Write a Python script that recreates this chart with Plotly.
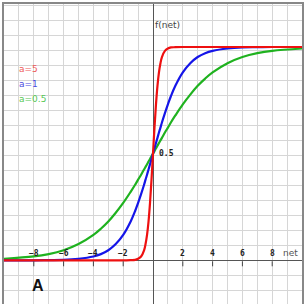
import plotly.graph_objects as go

# Data (logistic curves f(net) for three gains a)
net = [-10, -8, -7, -6, -5, -4, -3.5, -3, -2.5, -2, -1.5, -1.2, -1, -0.8, -0.6, -0.5,
       -0.4, -0.3, -0.2, -0.1, 0, 0.1, 0.2, 0.3, 0.4, 0.5, 0.6, 0.8, 1, 1.2, 1.5, 2,
       2.5, 3, 3.5, 4, 5, 6, 7, 8, 10]
f_a5 = [0, 0, 0, 0, 0, 0, 0, 0, 0, 0, 0.001, 0.002, 0.007, 0.018, 0.047, 0.076,
        0.119, 0.182, 0.269, 0.378, 0.5, 0.622, 0.731, 0.818, 0.881, 0.924, 0.953,
        0.982, 0.993, 0.998, 0.999, 1, 1, 1, 1, 1, 1, 1, 1, 1, 1]
f_a1 = [0, 0, 0.001, 0.002, 0.007, 0.018, 0.029, 0.047, 0.076, 0.119, 0.182, 0.231,
        0.269, 0.310, 0.354, 0.378, 0.401, 0.426, 0.450, 0.475, 0.5, 0.525, 0.550,
        0.574, 0.599, 0.622, 0.646, 0.690, 0.731, 0.769, 0.818, 0.881, 0.924, 0.953,
        0.971, 0.982, 0.993, 0.998, 0.999, 1, 1]
f_a05 = [0.007, 0.018, 0.029, 0.047, 0.076, 0.119, 0.148, 0.182, 0.223, 0.269, 0.321,
         0.354, 0.378, 0.401, 0.426, 0.438, 0.450, 0.463, 0.475, 0.488, 0.5, 0.512,
         0.525, 0.537, 0.550, 0.562, 0.574, 0.599, 0.622, 0.646, 0.679, 0.731, 0.777,
         0.818, 0.852, 0.881, 0.924, 0.953, 0.971, 0.982, 0.993]

series_names = ["a=0.5", "a=1", "a=5"]
series_values = [f_a05, f_a1, f_a5]
series_colors = ["#1fb21f", "#1515e8", "#ee1010"]
legend_colors = ["#55c855", "#4a4ae0", "#ee5a5a"]
legend_y = [0.756, 0.827, 0.897]

x_tick_vals = [-8, -6, -4, -2, 2, 4, 6, 8]
x_tick_text = ["\u22128", "\u22126", "\u22124", "\u22122", "2", "4", "6", "8"]

fig = go.Figure()
for name, vals, col in zip(series_names, series_values, series_colors):
    fig.add_trace(go.Scatter(x=net, y=vals, mode="lines", name=name,
                             line=dict(color=col, width=2.2, shape="spline"),
                             hoverinfo="skip"))

annotations = []
for v, t in zip(x_tick_vals, x_tick_text):
    annotations.append(dict(x=v, y=0, xref="x", yref="y", text="<b>" + t + "</b>",
                            showarrow=False, yanchor="bottom", xanchor="center", yshift=0,
                            font=dict(family="DejaVu Sans Mono", size=8, color="#222")))
annotations.append(dict(x=9.23, y=0, xref="x", yref="y", text="net", showarrow=False,
                        yanchor="bottom", xanchor="center", yshift=0,
                        font=dict(family="DejaVu Sans", size=9, color="#555")))
annotations.append(dict(x=0.02, y=1.103, xref="x", yref="y", text="f(net)", showarrow=False,
                        yanchor="middle", xanchor="left",
                        font=dict(family="DejaVu Sans", size=9, color="#444")))
annotations.append(dict(x=0.3, y=0.5, xref="x", yref="y", text="<b>0.5</b>", showarrow=False,
                        yanchor="middle", xanchor="left",
                        font=dict(family="DejaVu Sans Mono", size=8, color="#222")))
for name, col, yv in zip(series_names, legend_colors, legend_y):
    annotations.append(dict(x=-9.1, y=yv, xref="x", yref="y", text=name, showarrow=False,
                            yanchor="middle", xanchor="left",
                            font=dict(family="DejaVu Sans", size=9, color=col)))
annotations.append(dict(x=-7.69, y=-0.117, xref="x", yref="y", text="<b>A</b>",
                        showarrow=False, yanchor="middle", xanchor="center",
                        font=dict(family="Liberation Sans", size=16, color="#111")))

shapes = []
for v in x_tick_vals:
    shapes.append(dict(type="line", xref="x", yref="y", ysizemode="pixel", yanchor=0,
                       x0=v, x1=v, y0=-1, y1=-6, line=dict(color="#444", width=1)))

fig.update_layout(
    width=305, height=305,
    margin=dict(l=4, r=1, t=4, b=1),
    paper_bgcolor="white", plot_bgcolor="white",
    showlegend=False,
    annotations=annotations,
    shapes=shapes,
    xaxis=dict(range=[-10, 10], dtick=1, tick0=0, showgrid=True, gridcolor="#d6d6d6",
               gridwidth=1, zeroline=True, zerolinecolor="#555", zerolinewidth=1.3,
               showticklabels=False, ticks="", side="top",
               showline=True, linecolor="#888", linewidth=1.5, mirror=False,
               fixedrange=True),
    yaxis=dict(range=[-0.2049, 1.2016], dtick=0.07032, tick0=0, showgrid=True,
               gridcolor="#d6d6d6", gridwidth=1, zeroline=True, zerolinecolor="#555",
               zerolinewidth=1.3, showticklabels=False, ticks="",
               showline=True, linecolor="#888", linewidth=1.5, mirror=True,
               fixedrange=True),
)

fig.write_html("out.html", config={"displayModeBar": False})
